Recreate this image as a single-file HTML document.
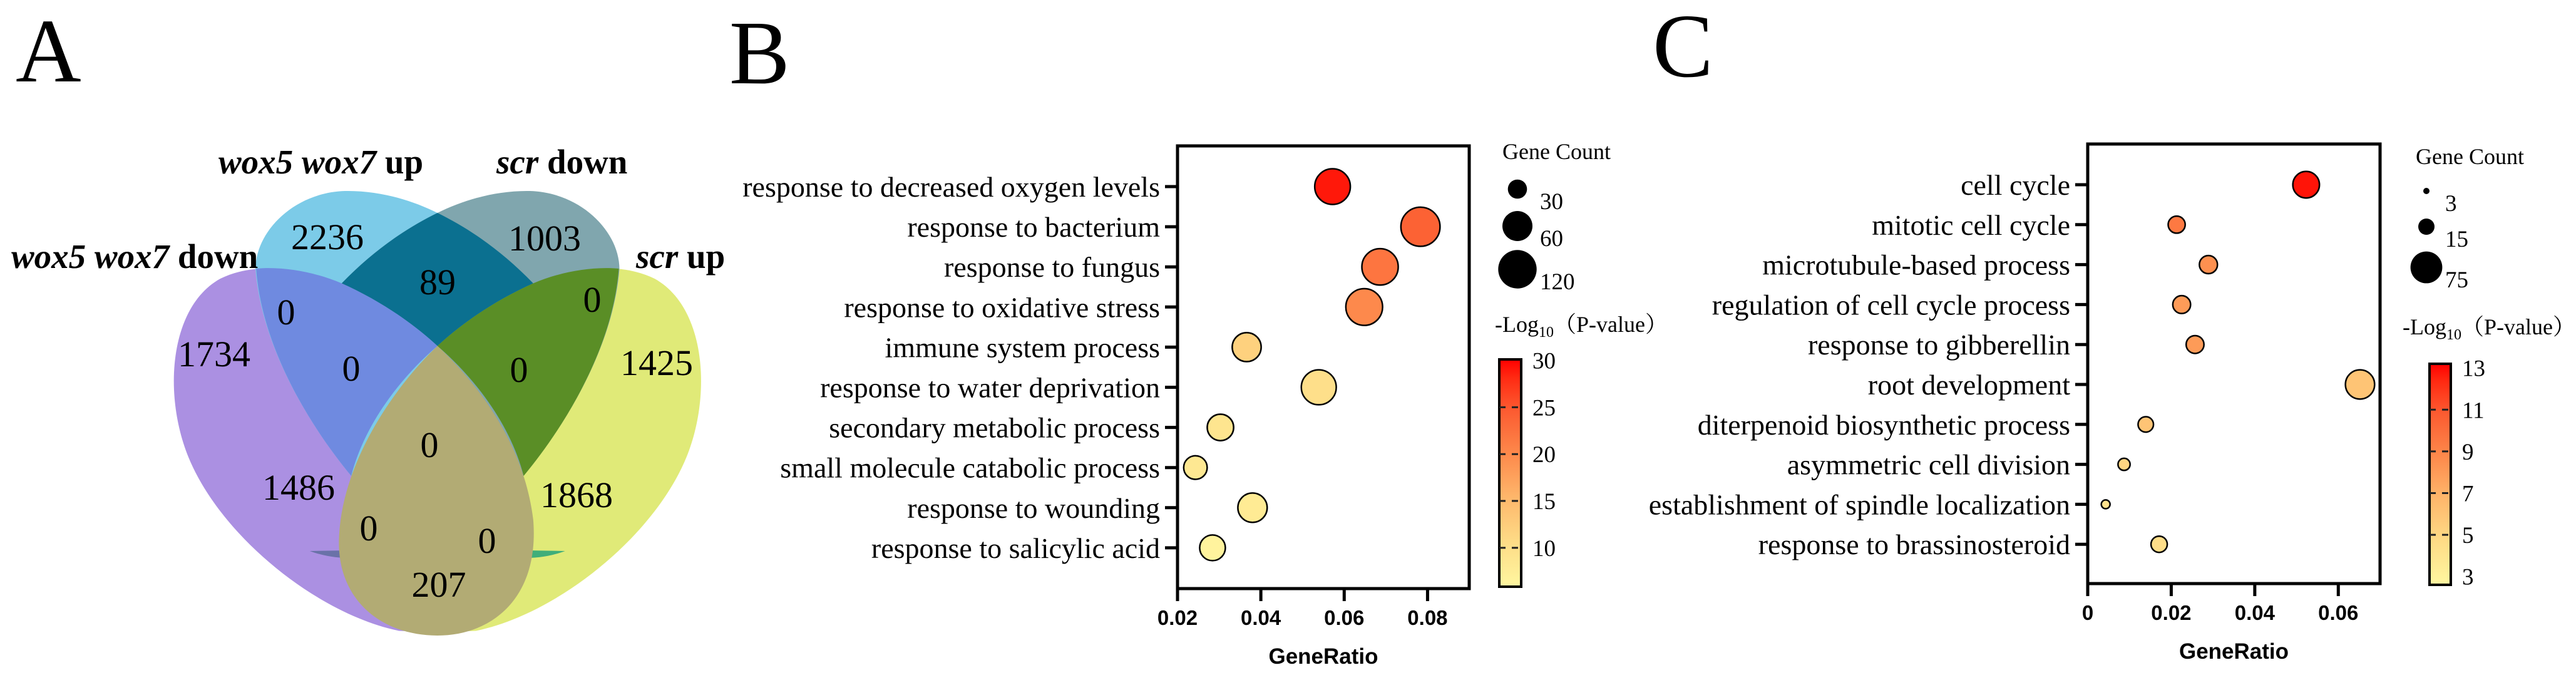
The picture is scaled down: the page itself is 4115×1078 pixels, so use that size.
<!DOCTYPE html>
<html><head><meta charset="utf-8">
<style>
html,body{margin:0;padding:0;background:#fff;}
svg{display:block;}
.serif{font-family:"Liberation Serif","Noto Serif CJK SC",serif;}
.sans{font-family:"Liberation Sans",sans-serif;}
</style></head>
<body>
<svg id="fig" width="4115" height="1078" viewBox="0 0 4115 1078" xmlns="http://www.w3.org/2000/svg">
<defs>
<linearGradient id="cbar" x1="0" y1="1" x2="0" y2="0">
<stop offset="0" stop-color="#fff7a0"/><stop offset="0.2" stop-color="#fedb86"/><stop offset="0.4" stop-color="#feb56a"/><stop offset="0.58" stop-color="#fd8a4c"/><stop offset="0.78" stop-color="#fc5a30"/><stop offset="0.92" stop-color="#ff2a12"/><stop offset="1" stop-color="#ff0000"/>
</linearGradient>
</defs>
<text class="serif" x="25" y="130" font-size="145">A</text>
<text class="serif" x="1165" y="133" font-size="145">B</text>
<text class="serif" x="2640" y="122" font-size="145">C</text>

<g id="venn">
 <g transform="translate(250,280) scale(0.51,0.5)">
  <path fill="#ab90e2" d="M 760,1455 C 500,1400 200,1150 100,900 C 20,700 40,420 200,330 C 320,270 480,300 600,345 L 880,545 L 880,1460 Z"/>
  <path fill="#e0ea78" d="M 1000,1455 C 1260,1400 1560,1150 1660,900 C 1740,700 1720,420 1560,330 C 1440,270 1280,300 1160,345 L 880,545 L 880,1460 Z"/>
  <path fill="#7ccbe8" d="M 310,300 C 310,180 430,55 590,50 C 700,48 800,80 880,120 C 1000,180 1100,260 1180,345 L 880,545 L 610,960 C 480,800 330,550 310,300 Z"/>
  <path fill="#80a6ae" d="M 1450,300 C 1450,180 1330,55 1170,50 C 1060,48 960,80 880,120 C 760,180 660,260 580,345 L 880,545 L 1150,960 C 1280,800 1430,550 1450,300 Z"/>
  <path fill="#0b7090" d="M 580,345 C 680,240 780,170 880,120 C 980,170 1080,240 1180,345 C 1060,400 960,470 880,545 C 800,470 700,400 580,345 Z"/>
  <path fill="#6f8ae0" d="M 312,298 C 400,290 500,310 580,345 C 700,400 800,470 880,545 C 760,650 650,800 610,960 C 480,800 330,550 312,298 Z"/>
  <path fill="#5a8e26" d="M 1448,298 C 1360,290 1260,310 1180,345 C 1060,400 960,470 880,545 C 1000,650 1110,800 1150,960 C 1280,800 1430,550 1448,298 Z"/>
  <path fill="#6a72a8" d="M 480,1200 L 600,1198 L 600,1222 C 560,1222 520,1215 480,1200 Z"/>
  <path fill="#3fae7a" d="M 1160,1198 L 1280,1200 C 1240,1215 1200,1222 1160,1222 Z"/>
  <path fill="#b2ab74" d="M 880,545 C 1000,660 1150,850 1180,1100 C 1200,1350 1050,1470 880,1470 C 700,1470 560,1350 572,1150 C 585,900 760,660 880,545 Z"/>
 </g>
 <g class="serif" font-size="58" text-anchor="middle">
  <text x="523" y="398">2236</text>
  <text x="870" y="400">1003</text>
  <text x="699" y="470">89</text>
  <text x="457" y="518">0</text>
  <text x="342" y="585">1734</text>
  <text x="561" y="608">0</text>
  <text x="829" y="610">0</text>
  <text x="946" y="498">0</text>
  <text x="1049" y="599">1425</text>
  <text x="686" y="730">0</text>
  <text x="477" y="798">1486</text>
  <text x="921" y="810">1868</text>
  <text x="589" y="863">0</text>
  <text x="778" y="883">0</text>
  <text x="701" y="953">207</text>
 </g>
 <g class="serif" font-size="55" font-weight="bold">
  <text x="349" y="277"><tspan font-style="italic">wox5 wox7</tspan> up</text>
  <text x="793" y="277"><tspan font-style="italic">scr</tspan> down</text>
  <text x="18" y="428"><tspan font-style="italic">wox5 wox7</tspan> down</text>
  <text x="1016" y="428"><tspan font-style="italic">scr</tspan> up</text>
 </g>
</g>
<g id="panelB"></g>
<g id="panelC"></g>
</svg>
<script>
// Panel B data
const bTerms = ["response to decreased oxygen levels","response to bacterium","response to fungus","response to oxidative stress","immune system process","response to water deprivation","secondary metabolic process","small molecule catabolic process","response to wounding","response to salicylic acid"];
const bRatio = [0.0572,0.0783,0.0686,0.0648,0.0366,0.0539,0.0303,0.0243,0.0380,0.0284];
const bLogP = [29,24,22,20,12,10,9,8.5,8,6.5];
const bCount = [100,125,105,108,57,95,50,42,58,48];
const bXTicks = [0.02,0.04,0.06,0.08];
const bXTickLabels = ["0.02","0.04","0.06","0.08"];
const bSizeLegend = [30,60,120];
const bColorTicks = [30,25,20,15,10];
// Panel C data
const cTerms = ["cell cycle","mitotic cell cycle","microtubule-based process","regulation of cell cycle process","response to gibberellin","root development","diterpenoid biosynthetic process","asymmetric cell division","establishment of spindle localization","response to brassinosteroid"];
const cRatio = [0.0523,0.0213,0.0289,0.0225,0.0257,0.0652,0.0139,0.0087,0.0043,0.0171];
const cLogP = [12.8,9.5,8.5,8,8,6,6,5,4.2,4.5];
const cCount = [55,18,22,21,21,65,14,10,6,15];
const cXTicks = [0,0.02,0.04,0.06];
const cXTickLabels = ["0","0.02","0.04","0.06"];
const cSizeLegend = [3,15,75];
const cColorTicks = [13,11,9,7,5,3];

const NS="http://www.w3.org/2000/svg";
function mk(tag,attrs,parent){const e=document.createElementNS(NS,tag);for(const k in attrs)e.setAttribute(k,attrs[k]);parent.appendChild(e);return e;}
const stops=[[0,[255,247,160]],[0.2,[254,219,134]],[0.4,[254,181,106]],[0.58,[253,138,76]],[0.78,[252,90,48]],[0.92,[255,42,18]],[1,[255,0,0]]];
function colorAt(t){t=Math.max(0,Math.min(1,t));for(let i=1;i<stops.length;i++){if(t<=stops[i][0]){const a=stops[i-1],b=stops[i];const f=(t-a[0])/(b[0]-a[0]);const c=a[1].map((v,j)=>Math.round(v+(b[1][j]-v)*f));return `rgb(${c[0]},${c[1]},${c[2]})`;}}return "rgb(255,0,0)";}
function interp(v,dom,rng){if(v<=dom[0])return rng[0]+(v-dom[0])*(rng[1]-rng[0])/(dom[1]-dom[0]);for(let i=1;i<dom.length;i++){if(v<=dom[i]||i==dom.length-1){return rng[i-1]+(v-dom[i-1])*(rng[i]-rng[i-1])/(dom[i]-dom[i-1]);}}}

function drawPanel(g,cfg,terms,ratio,logp,count,xt,xtl,sizeLeg,cTicks){
  const xs=v=>cfg.x0+(v-cfg.xmin)/(cfg.xmax-cfg.xmin)*(cfg.x1-cfg.x0);
  const ys=i=>cfg.row0+i*cfg.rowStep;
  const rs=c=>Math.max(3,interp(c,sizeLeg,cfg.legR));
  const cs=v=>colorAt((v-cfg.cmin)/(cfg.cmax-cfg.cmin));
  terms.forEach((t,i)=>{
    const y=ys(i);
    const tk=mk('line',{x1:cfg.x0-20,x2:cfg.x0,y1:y,y2:y,stroke:'#000','stroke-width':5},g);
    
    
    const tx=mk('text',{x:cfg.x0-28,y:y+16,'text-anchor':'end','font-size':46,class:'serif'},g);
    tx.textContent=t;
    
    
  });
  terms.forEach((t,i)=>{
    const c=mk('circle',{cx:xs(ratio[i]),cy:ys(i),r:rs(count[i]),fill:cs(logp[i]),stroke:'#000','stroke-width':2.5},g);
    
    
  });
  const box=mk('rect',{x:cfg.x0,y:cfg.y0,width:cfg.x1-cfg.x0,height:cfg.y1-cfg.y0,fill:'none',stroke:'#000','stroke-width':5},g);
  
  
  xt.forEach((v,i)=>{
    const x=xs(v);
    const l=mk('line',{x1:x,x2:x,y1:cfg.y1,y2:cfg.y1+20,stroke:'#000','stroke-width':5},g);
    
    
    const tx=mk('text',{x:x,y:cfg.y1+58,'text-anchor':'middle','font-size':33,'font-weight':'bold',class:'sans'},g);
    tx.textContent=xtl[i];
    
    
  });
  const xl=mk('text',{x:(cfg.x0+cfg.x1)/2,y:cfg.y1+120,'text-anchor':'middle','font-size':35,'font-weight':'bold',class:'sans'},g);
  xl.textContent='GeneRatio';
  
  
  const gt=mk('text',{x:cfg.legX,y:cfg.legTitleY,'font-size':36,class:'serif'},g);
  gt.textContent='Gene Count';
  
  
  sizeLeg.forEach((v,i)=>{
    const c=mk('circle',{cx:cfg.legCx,cy:cfg.legCy[i],r:rs(v),fill:'#000'},g);
    
    
    const tx=mk('text',{x:cfg.legCx+cfg.legTxtDx,y:cfg.legCy[i]+32,'font-size':37,class:'serif'},g);
    tx.textContent=String(v);
    
    
  });
  const ct=mk('text',{x:cfg.cbTitleX,y:cfg.cbTitleY,'font-size':36,class:'serif'},g);
  ct.innerHTML='-Log<tspan font-size="24" dy="8">10</tspan><tspan dy="-8">（P-value）</tspan>';
  
  
  const cy=v=>cfg.cbY1-(v-cfg.cmin)/(cfg.cmax-cfg.cmin)*(cfg.cbY1-cfg.cbY0);
  const bar=mk('rect',{x:cfg.cbX,y:cfg.cbY0,width:cfg.cbW,height:cfg.cbY1-cfg.cbY0,fill:'url(#cbar)',stroke:'#000','stroke-width':4},g);
  
  
  cTicks.forEach((v,i)=>{
    const y=cy(v);
    if(i>0&&i<cTicks.length-(cfg.lastAtBottom?1:0)){
      const d=mk('line',{x1:cfg.cbX,x2:cfg.cbX+cfg.cbW,y1:y,y2:y,stroke:'#222','stroke-width':3,'stroke-dasharray':'10,10'},g);
      
      
    }
    const tx=mk('text',{x:cfg.cbX+cfg.cbW+18,y:y+13,'font-size':37,class:'serif'},g);
    tx.textContent=String(v);
    
    
  });
}
drawPanel(document.getElementById('panelB'),{x0:1881,x1:2347,y0:233,y1:940,xmin:0.02,xmax:0.09,row0:298,rowStep:64.1,
  legR:[15.3,24,30.7],cmin:5.85,cmax:30.1,legX:2400,legTitleY:254,legCx:2424,legCy:[302,361,430],legTxtDx:36,
  cbTitleX:2388,cbTitleY:530,cbX:2395,cbW:35,cbY0:574,cbY1:937,lastAtBottom:false},
  bTerms,bRatio,bLogP,bCount,bXTicks,bXTickLabels,bSizeLegend,bColorTicks);
drawPanel(document.getElementById('panelC'),{x0:3335,x1:3802,y0:230,y1:932,xmin:0,xmax:0.07,row0:295,rowStep:63.8,
  legR:[5,13,25.4],cmin:2.6,cmax:13.2,legX:3859,legTitleY:262,legCx:3876,legCy:[305,362,427],legTxtDx:30,
  cbTitleX:3838,cbTitleY:534,cbX:3881,cbW:34,cbY0:581,cbY1:934,lastAtBottom:true},
  cTerms,cRatio,cLogP,cCount,cXTicks,cXTickLabels,cSizeLegend,cColorTicks);
</script>
</body></html>
